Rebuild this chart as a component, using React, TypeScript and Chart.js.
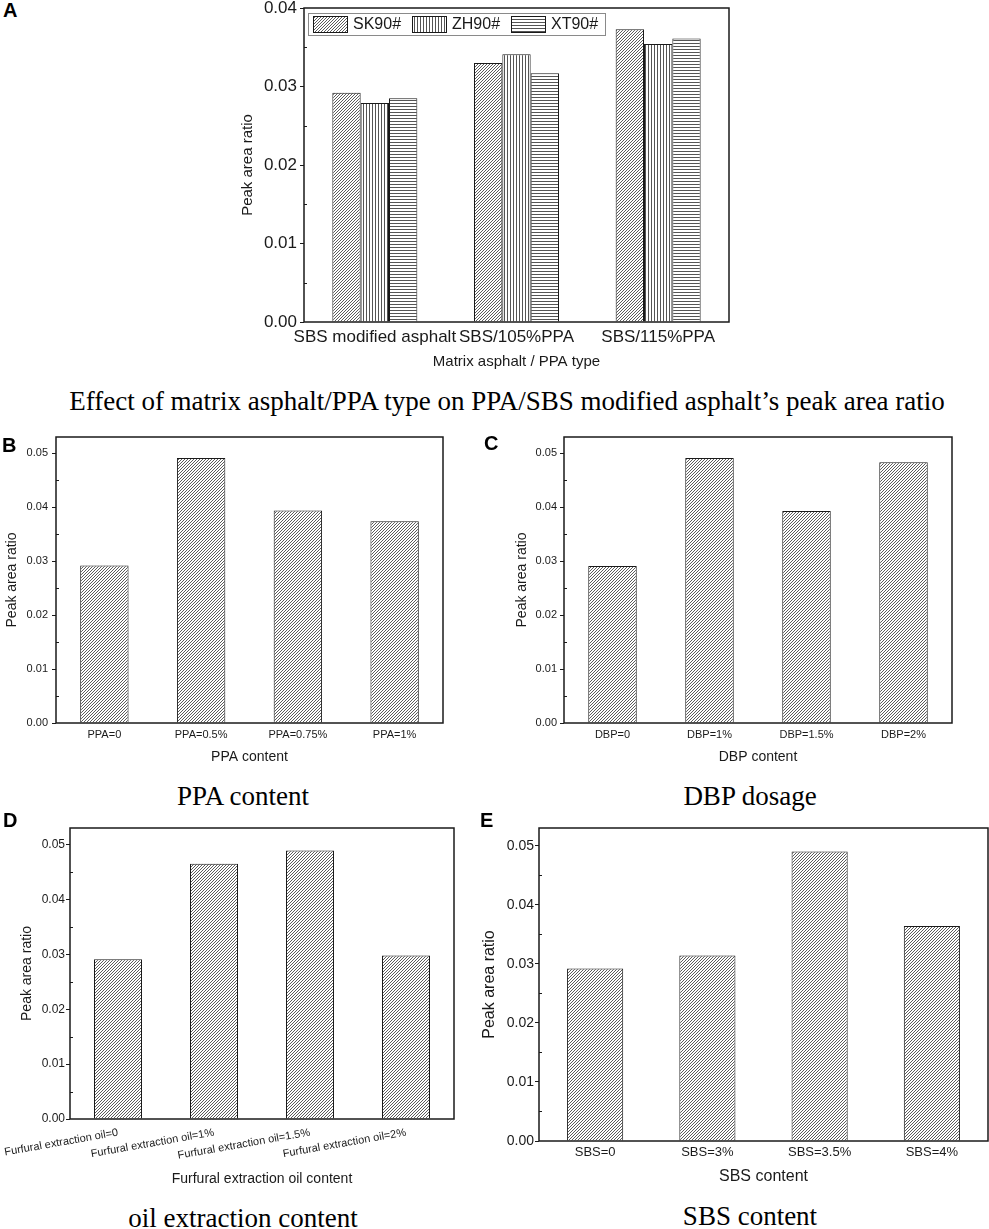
import { useEffect, useRef } from 'react';
import { Chart, registerables } from 'chart.js';

Chart.register(...registerables);

const SANS = '"Liberation Sans", Arial, Helvetica, sans-serif';
const SERIF = '"Liberation Serif", "Times New Roman", serif';
const INK = '#1a1a1a';

Chart.defaults.font.family = SANS;
Chart.defaults.color = INK;

// A: matrix asphalt / PPA type
const typeLabels = ['SBS modified asphalt', 'SBS/105%PPA', 'SBS/115%PPA'];
const sk90 = [0.0292, 0.033, 0.0373];
const zh90 = [0.0279, 0.0341, 0.0354];
const xt90 = [0.0285, 0.0317, 0.0361];

// B: PPA content
const ppaLabels = ['PPA=0', 'PPA=0.5%', 'PPA=0.75%', 'PPA=1%'];
const ppaValues = [0.0292, 0.0491, 0.0394, 0.0374];

// C: DBP dosage
const dbpLabels = ['DBP=0', 'DBP=1%', 'DBP=1.5%', 'DBP=2%'];
const dbpValues = [0.0291, 0.0491, 0.0393, 0.0483];

// D: furfural extraction oil
const oilLabels = [
  'Furfural extraction oil=0',
  'Furfural extraction oil=1%',
  'Furfural extraction oil=1.5%',
  'Furfural extraction oil=2%',
];
const oilValues = [0.0291, 0.0465, 0.0489, 0.0298];

// E: SBS content
const sbsLabels = ['SBS=0', 'SBS=3%', 'SBS=3.5%', 'SBS=4%'];
const sbsValues = [0.0292, 0.0314, 0.049, 0.0364];

// y axis ticks
const yTicksA = [0, 0.01, 0.02, 0.03, 0.04];
const yMinorA = [0.005, 0.015, 0.025, 0.035];
const yTicks = [0, 0.01, 0.02, 0.03, 0.04, 0.05];
const yMinor = [0.005, 0.015, 0.025, 0.035, 0.045];

type Hatch = 'diag' | 'vert' | 'horiz';

interface PanelSpec {
  box: [number, number, number, number]; // canvas left, top, width, height
  area: [number, number, number, number]; // plot left, top, right, bottom
  labels: string[];
  series: { name: string; values: number[]; hatch: Hatch }[];
  yMax: number;
  yTicks: number[];
  yMinor: number[];
  xTitle: string;
  xTick: number;
  yTick: number;
  titleSize: number;
  xTickPad: number;
  yTickPad: number;
  xTitlePad: number;
  yTitlePad: number;
  rot: number;
  catPct: number;
  legend?: boolean;
}

const panels: PanelSpec[] = [
  {
    box: [230, 0, 520, 375],
    area: [304, 8, 729, 322],
    labels: typeLabels,
    series: [
      { name: 'SK90#', values: sk90, hatch: 'diag' },
      { name: 'ZH90#', values: zh90, hatch: 'vert' },
      { name: 'XT90#', values: xt90, hatch: 'horiz' },
    ],
    yMax: 0.04,
    yTicks: yTicksA,
    yMinor: yMinorA,
    xTitle: 'Matrix asphalt / PPA type',
    xTick: 17,
    yTick: 17,
    titleSize: 15,
    xTickPad: 5,
    yTickPad: 3,
    xTitlePad: 4,
    yTitlePad: 9,
    rot: 0,
    catPct: 0.6,
    legend: true,
  },
  {
    box: [0, 425, 470, 345],
    area: [56, 437, 443, 723],
    labels: ppaLabels,
    series: [{ name: 'PPA', values: ppaValues, hatch: 'diag' }],
    yMax: 0.053,
    yTicks,
    yMinor,
    xTitle: 'PPA content',
    xTick: 11,
    yTick: 11,
    titleSize: 14,
    xTickPad: 5,
    yTickPad: 4,
    xTitlePad: 4.6,
    yTitlePad: 3.6,
    rot: 0,
    catPct: 0.5,
  },
  {
    box: [490, 425, 499, 345],
    area: [564, 437, 952, 723],
    labels: dbpLabels,
    series: [{ name: 'DBP', values: dbpValues, hatch: 'diag' }],
    yMax: 0.053,
    yTicks,
    yMinor,
    xTitle: 'DBP content',
    xTick: 11,
    yTick: 11,
    titleSize: 14,
    xTickPad: 5,
    yTickPad: 3,
    xTitlePad: 4.6,
    yTitlePad: 23.6,
    rot: 0,
    catPct: 0.5,
  },
  {
    box: [0, 815, 480, 377],
    area: [70, 828, 454, 1119],
    labels: oilLabels,
    series: [{ name: 'Oil', values: oilValues, hatch: 'diag' }],
    yMax: 0.053,
    yTicks,
    yMinor,
    xTitle: 'Furfural extraction oil content',
    xTick: 11,
    yTick: 12,
    titleSize: 14,
    xTickPad: 7,
    yTickPad: 1,
    xTitlePad: 4.6,
    yTitlePad: 18.6,
    rot: 10,
    catPct: 0.5,
  },
  {
    box: [480, 815, 509, 377],
    area: [539, 828, 988, 1141],
    labels: sbsLabels,
    series: [{ name: 'SBS', values: sbsValues, hatch: 'diag' }],
    yMax: 0.053,
    yTicks,
    yMinor,
    xTitle: 'SBS content',
    xTick: 13,
    yTick: 14,
    titleSize: 16,
    xTickPad: 4,
    yTickPad: 1,
    xTitlePad: 5.4,
    yTitlePad: 0.4,
    rot: 0,
    catPct: 0.5,
  },
];

function makeHatch(kind: Hatch): CanvasPattern {
  const c = document.createElement('canvas');
  const s = 3;
  c.width = s;
  c.height = s;
  const g = c.getContext('2d')!;
  g.fillStyle = '#fff';
  g.fillRect(0, 0, s, s);
  g.strokeStyle = '#4a4a4a';
  g.fillStyle = '#555';
  g.lineWidth = 0.9;
  if (kind === 'diag') {
    g.beginPath();
    g.moveTo(0, s);
    g.lineTo(s, 0);
    g.moveTo(-1, 1);
    g.lineTo(1, -1);
    g.moveTo(s - 1, s + 1);
    g.lineTo(s + 1, s - 1);
    g.stroke();
  } else if (kind === 'vert') {
    g.fillRect(1, 0, 1, s);
  } else {
    g.fillRect(0, 1, s, 1);
  }
  return g.createPattern(c, 'repeat')!;
}

function framePlugin(spec: PanelSpec) {
  return {
    id: 'frame',
    afterDraw(chart: Chart) {
      const { ctx, chartArea: a } = chart;
      const y = chart.scales.y;
      ctx.save();
      // minor ticks, inward
      ctx.strokeStyle = INK;
      ctx.lineWidth = 1;
      spec.yMinor.forEach((v) => {
        const py = Math.round(y.getPixelForValue(v)) + 0.5;
        ctx.beginPath();
        ctx.moveTo(a.left, py);
        ctx.lineTo(a.left + 3, py);
        ctx.stroke();
      });
      // box around plot
      ctx.lineWidth = 1.5;
      ctx.strokeRect(a.left, a.top, a.right - a.left, a.bottom - a.top);

      if (spec.legend) {
        const bx = a.left + 4;
        const by = a.top + 5;
        const bw = 297;
        const bh = 22;
        ctx.fillStyle = '#fff';
        ctx.fillRect(bx, by, bw, bh);
        ctx.lineWidth = 1;
        ctx.strokeStyle = '#8a8a8a';
        ctx.strokeRect(bx + 0.5, by + 0.5, bw, bh);
        ctx.font = `16px ${SANS}`;
        ctx.textBaseline = 'middle';
        chart.data.datasets.forEach((ds: any, i: number) => {
          const x = bx + 5 + i * 99;
          ctx.fillStyle = ds.backgroundColor;
          ctx.fillRect(x, by + 3, 34, 16);
          ctx.strokeStyle = INK;
          ctx.strokeRect(x + 0.5, by + 3.5, 34, 16);
          ctx.fillStyle = INK;
          ctx.fillText(ds.label, x + 40, by + bh / 2 + 1);
        });
      }
      ctx.restore();
    },
  };
}

function Panel({ spec }: { spec: PanelSpec }) {
  const canvasRef = useRef<HTMLCanvasElement>(null);
  const [cx, cy, cw, ch] = spec.box;

  useEffect(() => {
    if (!canvasRef.current) return;
    const [L, T, R, B] = spec.area;

    const chart = new Chart(canvasRef.current, {
      type: 'bar',
      data: {
        labels: spec.labels,
        datasets: spec.series.map((s) => ({
          label: s.name,
          data: s.values,
          backgroundColor: makeHatch(s.hatch),
          borderColor: INK,
          borderWidth: 1,
          categoryPercentage: spec.catPct,
          barPercentage: 1,
        })),
      },
      options: {
        responsive: false,
        animation: false,
        layout: { padding: { left: 0, top: T - cy, right: cx + cw - R, bottom: 0 } },
        plugins: { legend: { display: false }, tooltip: { enabled: false } },
        scales: {
          x: {
            grid: { display: false, drawTicks: false },
            border: { display: false },
            ticks: {
              color: INK,
              font: { size: spec.xTick },
              padding: spec.xTickPad,
              autoSkip: false,
              minRotation: spec.rot,
              maxRotation: spec.rot,
            },
            title: {
              display: true,
              text: spec.xTitle,
              color: INK,
              font: { size: spec.titleSize },
              padding: { top: 0, bottom: spec.xTitlePad },
            },
            afterFit: (s: any) => {
              s.height = cy + ch - B;
              s.paddingLeft = 0;
              s.paddingRight = 0;
            },
          },
          y: {
            min: 0,
            max: spec.yMax,
            afterBuildTicks: (s: any) => {
              s.ticks = spec.yTicks.map((v) => ({ value: v }));
            },
            grid: {
              drawOnChartArea: false,
              drawTicks: true,
              tickLength: 4,
              color: INK,
              tickColor: INK,
            },
            border: { display: false },
            ticks: {
              color: INK,
              font: { size: spec.yTick },
              padding: spec.yTickPad,
              callback: (v: any) => Number(v).toFixed(2),
            },
            title: {
              display: true,
              text: 'Peak area ratio',
              color: INK,
              font: { size: spec.titleSize },
              padding: { top: spec.yTitlePad, bottom: 0 },
            },
            afterFit: (s: any) => {
              s.width = L - cx;
              s.paddingTop = 0;
              s.paddingBottom = 0;
            },
          },
        },
      },
      plugins: [framePlugin(spec)],
    });

    return () => chart.destroy();
  }, [spec, cx, cy, cw, ch]);

  return (
    <canvas
      ref={canvasRef}
      width={cw}
      height={ch}
      style={{ position: 'absolute', left: cx, top: cy, width: cw, height: ch }}
    />
  );
}

const letterStyle = {
  position: 'absolute' as const,
  font: `bold 20px ${SANS}`,
  lineHeight: '20px',
  color: '#000',
};

const captionStyle = {
  position: 'absolute' as const,
  font: `27px ${SERIF}`,
  lineHeight: '27px',
  color: '#000',
  textAlign: 'center' as const,
  whiteSpace: 'nowrap' as const,
};

export default function App() {
  return (
    <div
      style={{
        position: 'absolute',
        left: 0,
        top: 0,
        width: 989,
        height: 1229,
        overflow: 'hidden',
        background: '#fff',
      }}
    >
      {panels.map((p, i) => (
        <Panel key={i} spec={p} />
      ))}

      <div style={{ ...letterStyle, left: 3, top: 0 }}>A</div>
      <div style={{ ...letterStyle, left: 2, top: 435 }}>B</div>
      <div style={{ ...letterStyle, left: 484, top: 433 }}>C</div>
      <div style={{ ...letterStyle, left: 3, top: 810 }}>D</div>
      <div style={{ ...letterStyle, left: 480, top: 810 }}>E</div>

      <div style={{ ...captionStyle, left: 7, width: 1000, top: 388 }}>
        Effect of matrix asphalt/PPA type on PPA/SBS modified asphalt’s peak area ratio
      </div>
      <div style={{ ...captionStyle, left: 43, width: 400, top: 783 }}>PPA content</div>
      <div style={{ ...captionStyle, left: 550, width: 400, top: 783 }}>DBP dosage</div>
      <div style={{ ...captionStyle, left: 43, width: 400, top: 1205 }}>oil extraction content</div>
      <div style={{ ...captionStyle, left: 550, width: 400, top: 1203 }}>SBS content</div>
    </div>
  );
}
